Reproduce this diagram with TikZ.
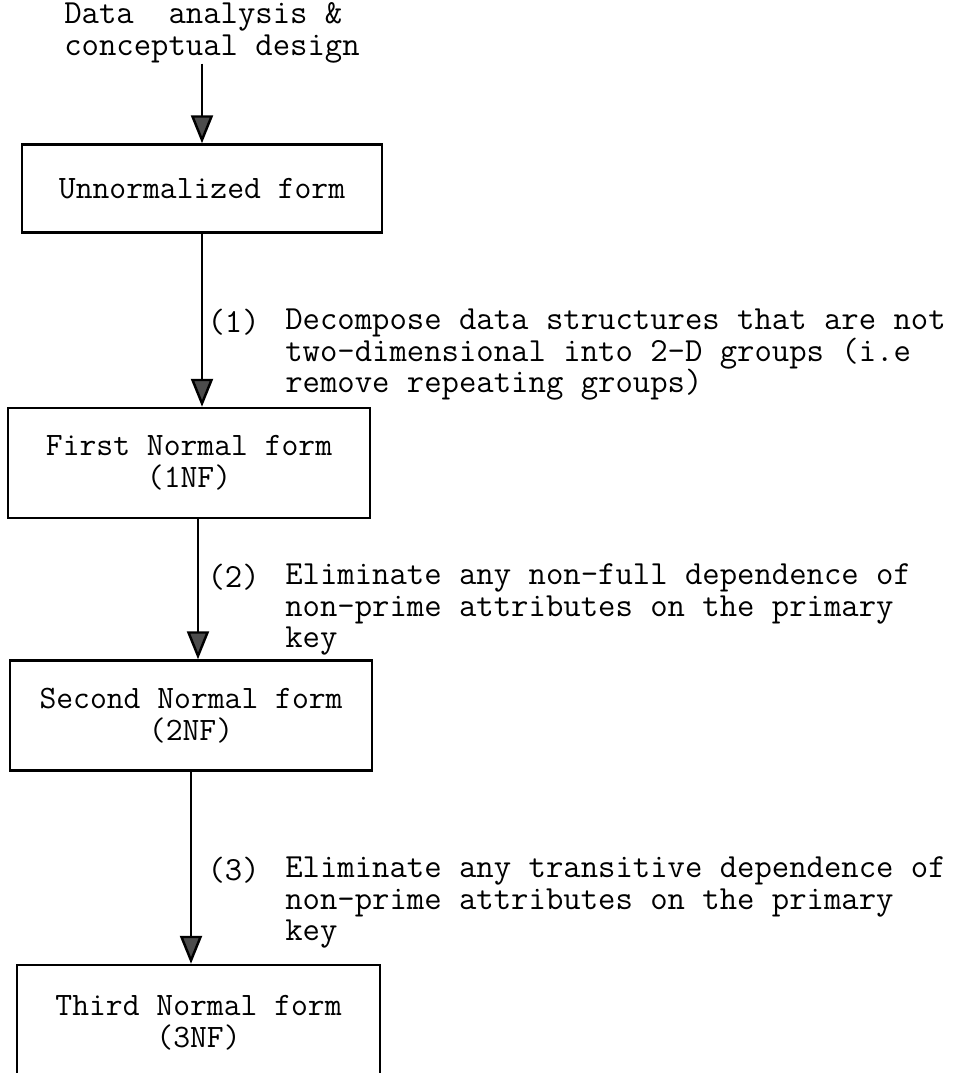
\documentclass[tikz,border=0pt]{standalone}
\usepackage{fontspec}
\usepackage{tikz}
\usetikzlibrary{positioning}
\usetikzlibrary{arrows.meta}

\tikzset{
  formbox/.style={draw, line width=1.4pt, minimum width=7.2cm, minimum height=2.2cm,
    align=center, font=\ttfamily\fontsize{18.6}{18}\selectfont},
  steptext/.style={inner sep=0pt, align=left, font=\ttfamily\fontsize{19.2}{18}\selectfont},
  flow/.style={line width=1.4pt, -{Triangle[width=0.44cm, length=0.56cm, fill=black!70]}}
}

\begin{document}
\begin{tikzpicture}
            \useasboundingbox (0,0) rectangle (19.3,-21.46);
            \clip (0,0) rectangle (19.3,-21.46);
            \node[steptext] at (4.24,-0.66) (start) {Data\ \ analysis \&\\conceptual design};
            \node[formbox, minimum height=1.76cm] at (4.04,-3.77) (unf) {Unnormalized form};
            \node[formbox, minimum width=7.24cm] at (3.78,-9.26) (fnf) {First Normal form\\(1NF)};
            \node[formbox, minimum width=7.24cm] at (3.82,-14.31) (snf) {Second Normal form\\(2NF)};
            \node[formbox, minimum width=7.26cm, minimum height=2.3cm] at (3.97,-20.45) (tnf) {Third Normal form\\(3NF)};
            \draw[flow] (unf.north |- start.south) -- (unf.north);
            \draw[flow] (unf.south) -- (unf.south |- fnf.north);
            \draw[flow] ([xshift=0.18cm]fnf.south) -- ([xshift=0.18cm]fnf.south |- snf.north);
            \draw[flow] (snf.south) -- (snf.south |- tnf.north);
            \node[steptext, anchor=north west] at (5.7,-6.17) (d1) {Decompose data structures that are not\\two-dimensional into 2-D groups (i.e\\remove repeating groups)};
            \node[steptext, left=0.5cm of d1.north west, anchor=north east] (n1) {(1)};
            \node[steptext, anchor=north west] at (5.7,-11.27) (d2) {Eliminate any non-full dependence of\\non-prime attributes on the primary\\key};
            \node[steptext, left=0.5cm of d2.north west, anchor=north east] (n2) {(2)};
            \node[steptext, anchor=north west] at (5.7,-17.13) (d3) {Eliminate any transitive dependence of\\non-prime attributes on the primary\\key};
            \node[steptext, left=0.5cm of d3.north west, anchor=north east] (n3) {(3)};
        \end{tikzpicture}
\end{document}
